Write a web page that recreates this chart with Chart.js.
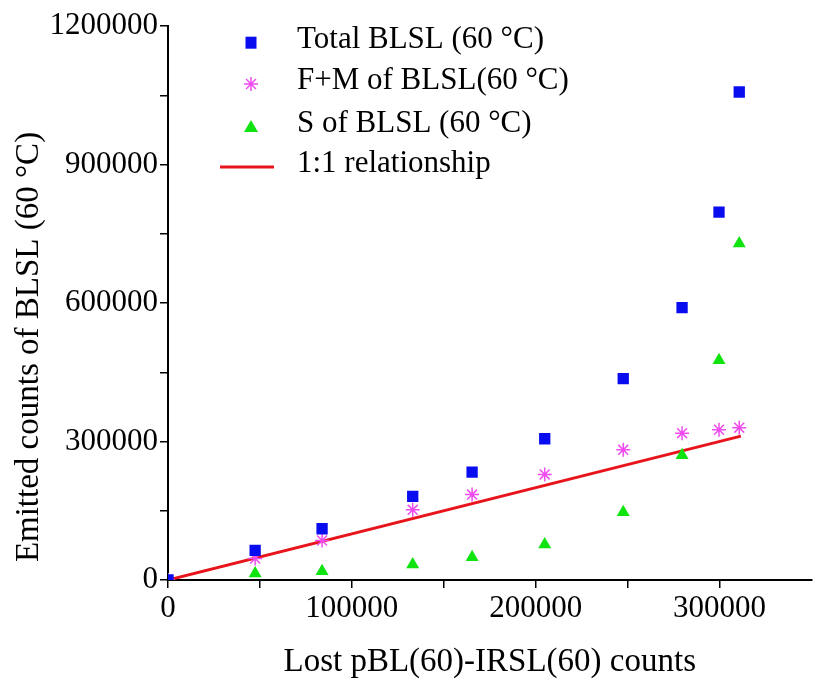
<!DOCTYPE html>
<html>
<head>
<meta charset="utf-8">
<script src="https://cdn.jsdelivr.net/npm/chart.js@4.4.0/dist/chart.umd.min.js"></script>
<style>
    html, body { margin: 0; padding: 0; background: #fff; }
    #wrap { width: 820px; height: 684px; }
</style>
</head>
<body>
<div id="wrap"><canvas id="chart" width="820" height="684"></canvas></div>
<script>
// x: lost pBL(60)-IRSL(60) counts, shared by all three series
const lostCounts = [0, 47400, 83800, 133100, 165400, 204900, 247600, 279600, 299700, 310700];
const totalBLSL = [0, 64000, 111000, 181000, 233700, 306000, 436000, 590000, 797000, 1057000];
const fmBLSL = [0, 46600, 85600, 152000, 185000, 228700, 282000, 318000, 325500, 330000];
const sBLSL = [0, 14000, 19000, 33600, 49400, 77000, 147000, 270000, 476000, 729000];
const oneToOne = [0, 311600];

const seriesLabels = ["Total BLSL (60 °C)", "F+M of BLSL(60 °C)", "S of BLSL (60 °C)", "1:1 relationship"];
const xTitle = "Lost pBL(60)-IRSL(60) counts";
const yTitle = "Emitted counts of BLSL (60 °C)";
const xMajor = [0, 100000, 200000, 300000];
const yMajor = [0, 300000, 600000, 900000, 1200000];

const SERIF = "'Liberation Serif', 'Times New Roman', serif";
const BLUE = "#0a0cf0";
const PINK = "#f04cf0";
const GREEN = "#10e410";
const RED = "#e8141c";

const pts = (xs, ys) => xs.map((x, i) => ({ x, y: ys[i] }));

// legend drawn inside the plot, top left, one item per row
const legendPlugin = {
    id: "innerLegend",
    afterDraw(chart) {
        const ctx = chart.ctx;
        const rows = [42.7, 84, 127, 167];
        const markX = 251;
        const textX = 297;
        ctx.save();
        ctx.font = "31px " + SERIF;
        ctx.textBaseline = "middle";
        chart.data.datasets.forEach((ds, i) => {
            const y = rows[i];
            if (ds.pointStyle === "rect") {
                ctx.fillStyle = ds.backgroundColor;
                ctx.fillRect(markX - 5.5, y - 6, 11, 12);
            } else if (ds.pointStyle === "star") {
                ctx.strokeStyle = ds.borderColor;
                ctx.lineWidth = 1.5;
                ctx.beginPath();
                for (let k = 0; k < 4; k++) {
                    const a = k * Math.PI / 4;
                    ctx.moveTo(markX - Math.cos(a) * 7, y - Math.sin(a) * 7);
                    ctx.lineTo(markX + Math.cos(a) * 7, y + Math.sin(a) * 7);
                }
                ctx.stroke();
            } else if (ds.pointStyle === "triangle") {
                ctx.fillStyle = ds.backgroundColor;
                ctx.beginPath();
                ctx.moveTo(markX, y - 7);
                ctx.lineTo(markX + 7, y + 5);
                ctx.lineTo(markX - 7, y + 5);
                ctx.closePath();
                ctx.fill();
            } else {
                ctx.strokeStyle = ds.borderColor;
                ctx.lineWidth = 3;
                ctx.beginPath();
                ctx.moveTo(220, y);
                ctx.lineTo(274, y);
                ctx.stroke();
            }
            ctx.fillStyle = "#000";
            ctx.fillText(ds.label, textX, y - 3);
        });
        ctx.restore();
    }
};

// y title sits lower than the plot centre in the original, so it is drawn here
const yTitlePlugin = {
    id: "yTitle",
    afterDraw(chart) {
        const ctx = chart.ctx;
        ctx.save();
        ctx.translate(29, 347);
        ctx.rotate(-Math.PI / 2);
        ctx.font = "33px " + SERIF;
        ctx.fillStyle = "#000";
        ctx.textAlign = "center";
        ctx.textBaseline = "middle";
        ctx.fillText(yTitle, 0, 0);
        ctx.restore();
    }
};

const isMajor = (v, list) => list.some(m => Math.abs(m - v) < 1);

const ctx = document.getElementById("chart");
new Chart(ctx, {
    type: "scatter",
    data: {
        datasets: [
            {
                label: seriesLabels[0],
                data: pts(lostCounts, totalBLSL),
                pointStyle: "rect",
                pointRadius: 8,
                backgroundColor: BLUE,
                borderColor: BLUE,
                borderWidth: 0
            },
            {
                label: seriesLabels[1],
                data: pts(lostCounts, fmBLSL),
                pointStyle: "star",
                pointRadius: 7,
                backgroundColor: PINK,
                borderColor: PINK,
                borderWidth: 1.5
            },
            {
                label: seriesLabels[2],
                data: pts(lostCounts, sBLSL),
                pointStyle: "triangle",
                pointRadius: 7.5,
                backgroundColor: GREEN,
                borderColor: GREEN,
                borderWidth: 0
            },
            {
                label: seriesLabels[3],
                type: "line",
                data: pts(oneToOne, oneToOne),
                borderColor: RED,
                borderWidth: 3,
                pointRadius: 0,
                fill: false
            }
        ]
    },
    options: {
        responsive: false,
        animation: false,
        devicePixelRatio: 1,
        // slight negative right padding: the original axis runs just past the right edge
        layout: { padding: { top: 26, right: -4, left: 0, bottom: 0 } },
        plugins: {
            legend: { display: false },
            tooltip: { enabled: false }
        },
        scales: {
            x: {
                type: "linear",
                min: 0,
                max: 350000,
                afterBuildTicks: (axis) => {
                    axis.ticks = axis.ticks.filter(t => t.value <= 300000);
                },
                afterFit: (axis) => {
                    axis.height = 104;
                    axis.paddingRight = 0;
                    axis.paddingLeft = 0;
                },
                ticks: {
                    stepSize: 50000,
                    maxRotation: 0,
                    autoSkip: false,
                    color: "#000",
                    font: { family: SERIF, size: 31 },
                    padding: 2,
                    callback: (v) => isMajor(v, xMajor) ? String(v) : ""
                },
                grid: { display: true, drawOnChartArea: false, drawTicks: true, tickLength: 8, color: "#000", lineWidth: 1.5 },
                border: { display: true, color: "#000", width: 2 },
                title: { display: true, text: xTitle, color: "#000", font: { family: SERIF, size: 33 }, padding: { top: 10, bottom: 2 } }
            },
            y: {
                type: "linear",
                min: 0,
                max: 1200000,
                afterFit: (axis) => { axis.width = 168; },
                ticks: {
                    stepSize: 150000,
                    autoSkip: false,
                    color: "#000",
                    font: { family: SERIF, size: 31 },
                    padding: 2,
                    callback: (v) => isMajor(v, yMajor) ? String(v) : ""
                },
                grid: { display: true, drawOnChartArea: false, drawTicks: true, tickLength: 8, color: "#000", lineWidth: 1.5 },
                border: { display: true, color: "#000", width: 2 },
                title: { display: false }
            }
        }
    },
    plugins: [legendPlugin, yTitlePlugin]
});
</script>
</body>
</html>
